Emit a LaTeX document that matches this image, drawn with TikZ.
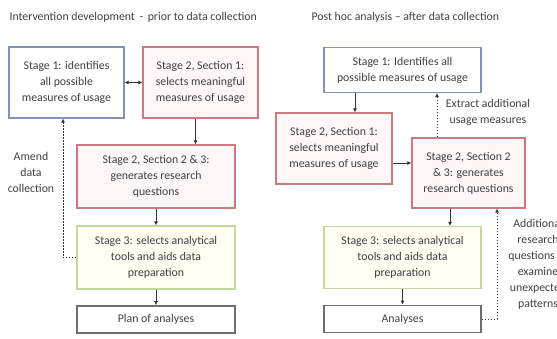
\documentclass[tikz,border=0pt]{standalone}
\usepackage{fontspec}
\setmainfont{Carlito}
\usepackage{xcolor}
\usetikzlibrary{arrows.meta, positioning, calc}

\definecolor{bluebox}{HTML}{8094BA}
\definecolor{redbox}{HTML}{CC7A7E}
\definecolor{greenbox}{HTML}{C5D69E}
\definecolor{graybox}{HTML}{6E6E6E}
\definecolor{txt}{HTML}{404040}

\begin{document}
\begin{tikzpicture}[
        x=1pt, y=-1pt,
        every node/.style={text=txt, align=center, font=\fontsize{11.8}{16}\selectfont},
        ph/.style={rectangle, draw, line width=1.1pt, inner sep=2pt},
        stageone/.style={ph, draw=bluebox, fill=white},
        stagetwo/.style={ph, draw=redbox, fill=red!3},
        stagethree/.style={ph, draw=greenbox, fill=yellow!5},
        result/.style={ph, draw=graybox, line width=1.8pt, fill=white},
        arrowline/.style={-{Latex[length=4pt, width=4pt]}, line width=0.8pt, draw=black!80},
        dotline/.style={arrowline, dash pattern=on 1.5pt off 1.5pt}
    ]
        \useasboundingbox (0,0) rectangle (557,338);
        % left side: prior to data collection
        \node[anchor=west] (tl) at (6,17) {Intervention development \,-\, prior to data collection};
        \node[stageone, minimum width=115, minimum height=71] (a) at (66.5,82.5) {Stage 1: identifies\\ all possible\\ measures of usage};
        \node[stagetwo, minimum width=115, minimum height=71] (b) at (200.5,82.5) {Stage 2, Section 1:\\ selects meaningful\\ measures of usage};
        \node[stagetwo, minimum width=158, minimum height=63] (c) at (156,176.5) {Stage 2, Section 2 \& 3:\\ generates research\\ questions};
        \node[stagethree, minimum width=158, minimum height=63] (d) at (156,257.5) {Stage 3: selects analytical\\ tools and aids data\\ preparation};
        \node[result, minimum width=158, minimum height=27] (e) at (156,319.5) {Plan of analyses};
        \node (amend) at (31,172) {Amend\\ data\\ collection};
        \draw[{Latex[length=4pt, width=4pt]}-{Latex[length=4pt, width=4pt]}, line width=0.8pt, draw=black!80] (a.east) -- (b.west);
        \draw[arrowline] ([xshift=-5pt]b.south) -- ([xshift=-5pt]b.south |- c.north);
        \draw[arrowline] (c.south) -- (d.north);
        \draw[arrowline] (d.south) -- (e.north);
        \draw[dotline] (d.west) -| ([xshift=-3.5pt]a.south);
        % right side: after data collection
        \node[anchor=west] (tr) at (308,17) {Post hoc analysis -- after data collection};
        \node[stageone, minimum width=157, minimum height=45] (f) at (402.5,70) {Stage 1: Identifies all\\ possible measures of usage};
        \node[stagetwo, minimum width=116, minimum height=71] (g) at (334,148.5) {Stage 2, Section 1:\\ selects meaningful\\ measures of usage};
        \node[stagetwo, minimum width=113, minimum height=70] (h) at (468.5,173) {Stage 2, Section 2\\ \& 3: generates\\ research questions};
        \node[stagethree, minimum width=157, minimum height=62] (i) at (402.5,257.5) {Stage 3: selects analytical\\ tools and aids data\\ preparation};
        \node[result, minimum width=157, minimum height=27] (j) at (402.5,319) {Analyses};
        \node (extract) at (488,112.5) {Extract additional\\ usage measures};
        \node (extra) at (538,264) {Additional\\ research\\ questions to\\ examine\\ unexpected\\ patterns};
        \draw[arrowline] ([xshift=-47.5pt]f.south) -- ([xshift=-47.5pt]f.south |- g.north);
        \draw[arrowline] ([yshift=-14.5pt]g.east) -- ([yshift=-14.5pt]g.east -| h.west);
        \draw[dotline] ([xshift=-31.5pt]h.north) -- ([xshift=-31.5pt]h.north |- f.south);
        \draw[arrowline] ([xshift=-18.5pt]h.south) -- ([xshift=-18.5pt]h.south |- i.north);
        \draw[arrowline] (i.south) -- (j.north);
        \draw[dotline] (j.east) -| ([xshift=28.5pt]h.south);
    \end{tikzpicture}
\end{document}
